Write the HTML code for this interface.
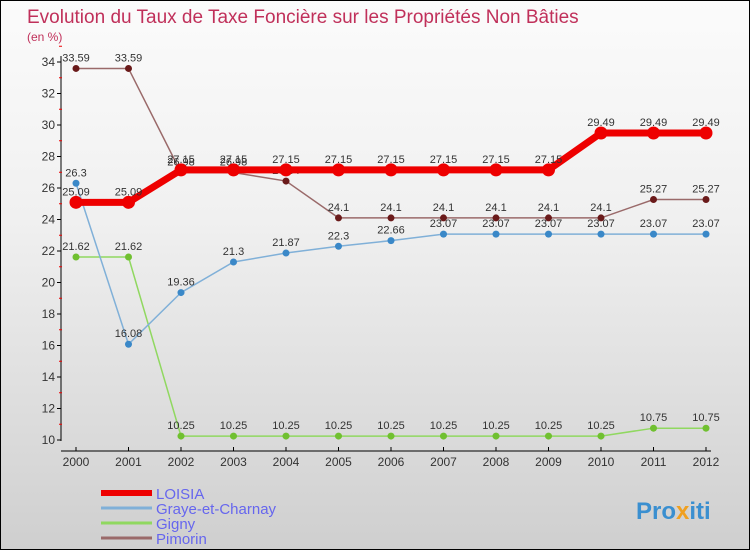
<!DOCTYPE html>
<html><head><meta charset="utf-8"><style>
body{margin:0}
#wrap{position:relative;width:748px;height:548px;border:1px solid #000;background:linear-gradient(#fbfbfb,#f0f0f0 40%,#cfcfcf);font-family:"Liberation Sans",sans-serif;overflow:hidden}
svg{position:absolute;left:0;top:0}
</style></head><body>
<div id="wrap">
<svg id="c" width="750" height="550">
<text x="26" y="22" font-size="19" fill="#c0305a">Evolution du Taux de Taxe Foncière sur les Propriétés Non Bâties</text>
<text x="26" y="40" font-size="12" fill="#c0305a">(en %)</text>
<text x="635" y="518" font-size="24" font-weight="bold" fill="#3a8fd0">Pro<tspan fill="#f0a020">x</tspan>iti</text>
</svg></div>
<script>
const years=[2000,2001,2002,2003,2004,2005,2006,2007,2008,2009,2010,2011,2012];
const yTicks=[10,12,14,16,18,20,22,24,26,28,30,32,34];
const seriesNames=["LOISIA","Graye-et-Charnay","Gigny","Pimorin"];
const loisia=[25.09,25.09,27.15,27.15,27.15,27.15,27.15,27.15,27.15,27.15,29.49,29.49,29.49];
const graye=[26.3,16.08,19.36,21.3,21.87,22.3,22.66,23.07,23.07,23.07,23.07,23.07,23.07];
const gigny=[21.62,21.62,10.25,10.25,10.25,10.25,10.25,10.25,10.25,10.25,10.25,10.75,10.75];
const pimorin=[33.59,33.59,26.98,26.98,26.44,24.1,24.1,24.1,24.1,24.1,24.1,25.27,25.27];
const svg=document.getElementById('c');const NS='http://www.w3.org/2000/svg';
const X=i=>75+i*52.5, Y=v=>439-(v-10)*15.75;
function mk(t,a,p){const e=document.createElementNS(NS,t);for(const k in a)e.setAttribute(k,a[k]);(p||svg).appendChild(e);return e;}
let ax=mk('line',{x1:60,y1:55,x2:60,y2:440,stroke:'#000'});


let xa=mk('line',{x1:60,y1:450,x2:710,y2:450,stroke:'#000'});


yTicks.forEach(v=>{mk('line',{x1:56,y1:Y(v),x2:60,y2:Y(v),stroke:'#000'});
mk('line',{x1:58,y1:Y(v+1),x2:61,y2:Y(v+1),stroke:'#e00'});
const t=mk('text',{x:54,y:Y(v)+4,'font-size':12,'text-anchor':'end',fill:'#333'});t.textContent=v;

});
years.forEach((y,i)=>{mk('line',{x1:X(i),y1:446,x2:X(i),y2:450,stroke:'#000'});
const t=mk('text',{x:X(i),y:465,'font-size':12,'text-anchor':'middle',fill:'#333'});t.textContent=y;

});
const defs=[[pimorin,'#9a6a6a','#6a1a1a',1.5,3.5],[gigny,'#90d860','#70c030',1.5,3.5],[graye,'#80b0d8','#3a88c8',1.5,3.5],[loisia,'#ee0000','#ee0000',7,6.5]];
const order=[3,2,1,0];
defs.forEach((d,k)=>{const [vals,lc,pc,w,r]=d;
const p=mk('polyline',{points:vals.map((v,i)=>X(i)+','+Y(v)).join(' '),fill:'none',stroke:lc,'stroke-width':w});


vals.forEach((v,i)=>{const c=mk('circle',{cx:X(i),cy:Y(v),r:r,fill:pc});


const t=mk('text',{x:X(i),y:Y(v)-7,'font-size':11,'text-anchor':'middle',fill:'#333'});t.textContent=v;

});});
const lc=['#ee0000','#80b0d8','#90d860','#9a6a6a'],lw=[6,3,3,3];
seriesNames.forEach((n,i)=>{const y=492+i*15;
const l=mk('line',{x1:100,y1:y,x2:151,y2:y,stroke:lc[i],'stroke-width':lw[i]});


const t=mk('text',{x:155,y:y+6,'font-size':15,fill:'#6666ee'});t.textContent=n;

});
</script>
</body></html>
